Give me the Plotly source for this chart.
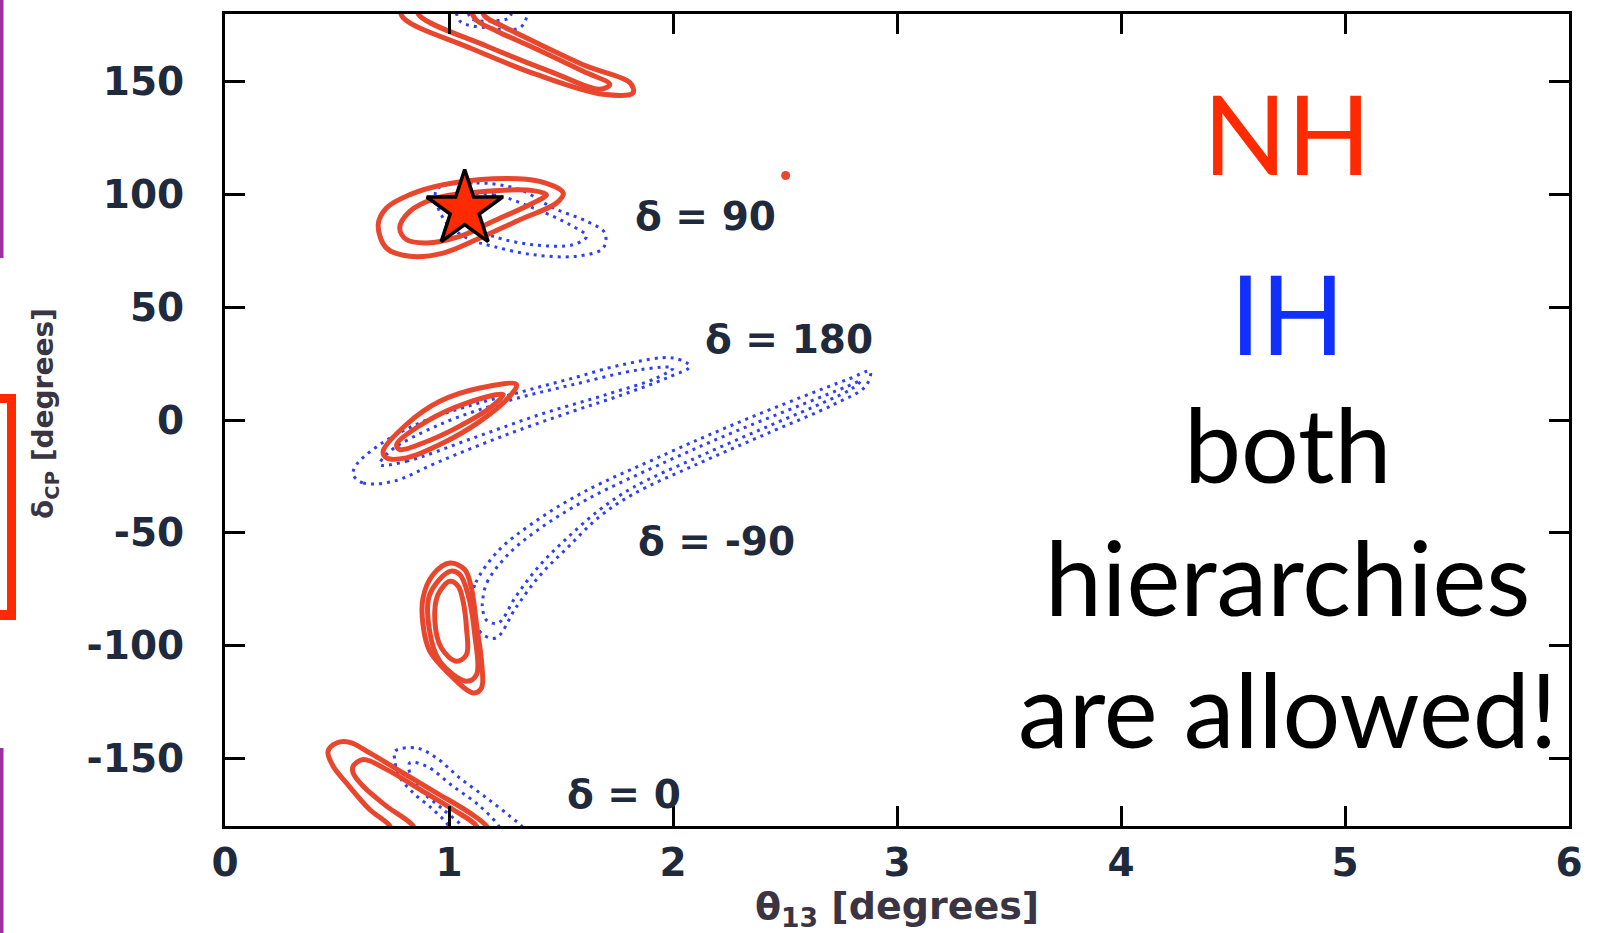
import plotly.graph_objects as go

# ---------------------------------------------------------------
# Allowed regions in the (theta13, delta_CP) plane.
# NH = normal hierarchy (solid red), IH = inverted hierarchy (dotted blue).
# Regions touching +/-180 deg wrap around and are clipped by the axes.
# ---------------------------------------------------------------

# NH, region at the top edge (wraps to the bottom)
nh_top_outer_x = [0.78, 0.795, 1.093, 1.39, 1.688, 1.822, 1.807, 1.614, 1.39, 1.24, 1.16, 1.14]
nh_top_outer_y = [184, 178.4, 165.0, 153.2, 144.4, 145.1, 149.6, 156.9, 167.3, 174.6, 179.0, 184]
nh_top_inner_x = [0.85, 0.87, 1.167, 1.465, 1.673, 1.718, 1.599, 1.39, 1.212, 1.12, 1.09]
nh_top_inner_y = [184, 179.1, 165.8, 154.0, 146.6, 148.8, 154.6, 164.5, 172.5, 177.5, 184]

# NH, delta = 90
nh_d90_outer_x = [0.684, 0.721, 0.825, 0.974, 1.197, 1.405, 1.51, 1.48, 1.316, 1.123, 0.974, 0.825, 0.721, 0.684]
nh_d90_outer_y = [86.6, 94.0, 99.9, 104.3, 107.0, 105.8, 100.6, 96.2, 88.8, 80.0, 74.0, 72.6, 76.2, 86.6]
nh_d90_inner_x = [0.780, 0.825, 0.944, 1.167, 1.375, 1.435, 1.375, 1.197, 1.048, 0.90, 0.81, 0.78]
nh_d90_inner_y = [85.1, 92.5, 98.4, 101.4, 101.7, 99.9, 96.2, 88.1, 81.4, 78.5, 80.0, 85.1]

# NH, delta = 180
nh_d180_outer_x = [0.706, 0.81, 0.959, 1.138, 1.301, 1.271, 1.138, 0.959, 0.81, 0.721, 0.706]
nh_d180_outer_y = [-13.9, -2.0, 8.3, 14.2, 15.7, 10.5, -0.6, -10.9, -16.8, -16.8, -13.9]
nh_d180_inner_x = [0.766, 0.90, 1.078, 1.242, 1.182, 1.033, 0.884, 0.78, 0.766]
nh_d180_inner_y = [-10.9, -0.6, 7.5, 11.3, 5.3, -3.5, -10.2, -13.1, -10.9]

# NH, delta = -90
nh_dm90_outer_x = [1.004, 0.929, 0.884, 0.884, 0.914, 1.004, 1.108, 1.145, 1.145, 1.123, 1.10, 1.07, 1.004]
nh_dm90_outer_y = [-63.4, -68.5, -78.9, -90.7, -102.5, -112.9, -121.0, -118.8, -107.0, -90.7, -74.5, -66.3, -63.4]
nh_dm90_mid_x = [1.004, 0.914, 0.911, 0.959, 1.078, 1.123, 1.115, 1.085, 1.048, 1.004]
nh_dm90_mid_y = [-67.1, -77.4, -92.2, -107.0, -115.8, -112.9, -95.1, -77.4, -68.5, -67.1]
nh_dm90_inner_x = [1.004, 0.951, 0.937, 0.966, 1.033, 1.078, 1.078, 1.063, 1.041, 1.004]
nh_dm90_inner_y = [-71.5, -77.4, -89.2, -101.1, -107.0, -104.0, -92.2, -80.4, -73.7, -71.5]

# NH, region at the bottom edge (delta = 0 label)
nh_bot_outer_x = [1.18, 1.167, 1.093, 0.944, 0.795, 0.646, 0.557, 0.498, 0.46, 0.483, 0.542, 0.646, 0.736, 0.745]
nh_bot_outer_y = [-184, -180, -174.2, -165.3, -156.5, -147.6, -142.9, -143.2, -146.9, -153.5, -160.9, -172.7, -180, -184]
nh_bot_inner_x = [1.13, 1.123, 1.018, 0.87, 0.721, 0.617, 0.572, 0.572, 0.617, 0.721, 0.84, 0.85]
nh_bot_inner_y = [-184, -180, -172.7, -163.8, -154.9, -150.5, -153.5, -156.5, -162.4, -171.2, -180, -184]

# IH, delta = 90
ih_d90_outer_x = [0.944, 1.123, 1.316, 1.465, 1.614, 1.696, 1.688, 1.569, 1.375, 1.197, 1.078, 0.974, 0.944]
ih_d90_outer_y = [102.1, 105.1, 102.1, 94.0, 88.1, 82.9, 76.2, 72.6, 73.3, 77.0, 80.7, 89.5, 102.1]
ih_d90_inner_x = [1.033, 1.197, 1.375, 1.539, 1.614, 1.554, 1.375, 1.197, 1.078, 1.033]
ih_d90_inner_y = [98.4, 99.9, 94.0, 86.6, 81.4, 77.7, 77.7, 81.4, 86.6, 98.4]

# IH, delta = 180
ih_d180_outer_x = [0.572, 0.617, 0.75, 0.959, 1.257, 1.554, 1.777, 1.971, 2.075, 2.0, 1.777, 1.554, 1.331, 1.108, 0.884, 0.691, 0.587, 0.572]
ih_d180_outer_y = [-24.2, -27.9, -27.2, -18.3, -6.5, 3.9, 11.3, 18.6, 23.8, 27.5, 24.6, 18.6, 12.7, 6.8, -0.6, -10.9, -19.8, -24.2]
ih_d180_inner_x = [0.691, 0.81, 1.108, 1.405, 1.703, 1.926, 2.0, 1.852, 1.554, 1.257, 0.959, 0.736, 0.691]
ih_d180_inner_y = [-19.8, -18.3, -8.0, 2.4, 11.3, 18.6, 23.1, 22.3, 15.7, 8.3, -2.0, -13.9, -19.8]

# IH, delta = -90
ih_dm90_outer_x = [1.10, 1.12, 1.22, 1.37, 1.60, 1.97, 2.27, 2.57, 2.78, 2.88, 2.86, 2.72, 2.42, 2.12, 1.82,
                   1.67, 1.525, 1.405, 1.30, 1.21, 1.15, 1.105, 1.10]
ih_dm90_outer_y = [-80, -72, -58, -46, -32, -15, -2, 10, 18, 21.5, 15, 7, -6, -19, -33,
                   -43, -57, -69, -83, -96.6, -95, -87, -80]
ih_dm90_inner_x = [1.15, 1.17, 1.26, 1.40, 1.62, 1.98, 2.28, 2.58, 2.78, 2.84, 2.80, 2.70, 2.42, 2.12, 1.82,
                   1.67, 1.52, 1.40, 1.30, 1.22, 1.17, 1.15, 1.15]
ih_dm90_inner_y = [-80, -72, -60, -48.5, -35, -18, -5, 7, 15, 17.5, 14, 9, -3, -16, -30,
                   -40, -53, -65, -78, -90, -89, -84, -80]

# IH, region at the bottom edge (wraps to the top)
ih_bot_outer_x = [1.335, 1.331, 1.271, 1.167, 1.048, 0.944, 0.855, 0.758, 0.758, 0.773, 0.84, 0.929, 1.004, 1.006]
ih_bot_outer_y = [-184, -180.9, -175.6, -167.5, -158.7, -149.8, -145.4, -146.9, -150.5, -157.2, -165.3, -172.7, -180.9, -184]
ih_bot_inner_x = [1.23, 1.227, 1.138, 1.018, 0.90, 0.825, 0.825, 0.87, 0.974, 1.063, 1.065]
ih_bot_inner_y = [-184, -180.9, -171.2, -162.4, -153.5, -152.0, -156.5, -163.8, -172.7, -180.9, -184]
ih_top_outer_x = [1.03, 1.048, 1.167, 1.316, 1.346, 1.35]
ih_top_outer_y = [184, 176.9, 173.9, 173.9, 178.4, 184]
ih_top_inner_x = [1.08, 1.10, 1.20, 1.27, 1.28]
ih_top_inner_y = [184, 178, 177, 178.5, 184]

# true point (star) and an isolated NH point
true_point_x = [1.07]
true_point_y = [93.4]
nh_dot_x = [2.503]
nh_dot_y = [108.4]

# axis ticks
x_ticks = [0, 1, 2, 3, 4, 5, 6]
y_ticks = [-150, -100, -50, 0, 50, 100, 150]

# region labels (theta13, delta_CP of label centre)
label_text = ["δ = 90", "δ = 180", "δ = -90", "δ = 0"]
label_x = [2.146, 2.517, 2.195, 1.783]
label_y = [90.3, 35.8, -53.8, -165.9]

NH_RED = "#e8462d"
IH_BLUE = "#2f40f0"
TICK_COLOR = "#1f2a3c"

fig = go.Figure()

nh_curves = [
    (nh_top_outer_x, nh_top_outer_y), (nh_top_inner_x, nh_top_inner_y),
    (nh_d90_outer_x, nh_d90_outer_y), (nh_d90_inner_x, nh_d90_inner_y),
    (nh_d180_outer_x, nh_d180_outer_y), (nh_d180_inner_x, nh_d180_inner_y),
    (nh_dm90_outer_x, nh_dm90_outer_y), (nh_dm90_mid_x, nh_dm90_mid_y), (nh_dm90_inner_x, nh_dm90_inner_y),
    (nh_bot_outer_x, nh_bot_outer_y), (nh_bot_inner_x, nh_bot_inner_y),
]
ih_curves = [
    (ih_d90_outer_x, ih_d90_outer_y), (ih_d90_inner_x, ih_d90_inner_y),
    (ih_d180_outer_x, ih_d180_outer_y), (ih_d180_inner_x, ih_d180_inner_y),
    (ih_dm90_outer_x, ih_dm90_outer_y), (ih_dm90_inner_x, ih_dm90_inner_y),
    (ih_bot_outer_x, ih_bot_outer_y), (ih_bot_inner_x, ih_bot_inner_y),
    (ih_top_outer_x, ih_top_outer_y), (ih_top_inner_x, ih_top_inner_y),
]

for cx, cy in ih_curves:
    fig.add_trace(go.Scatter(
        x=cx, y=cy, mode="lines", hoverinfo="skip", showlegend=False,
        line=dict(color=IH_BLUE, width=3, dash="3px,5px", shape="spline", smoothing=1.0),
    ))

for cx, cy in nh_curves:
    fig.add_trace(go.Scatter(
        x=cx, y=cy, mode="lines", hoverinfo="skip", showlegend=False,
        line=dict(color=NH_RED, width=5, shape="spline", smoothing=1.0),
    ))

fig.add_trace(go.Scatter(
    x=nh_dot_x, y=nh_dot_y, mode="markers", hoverinfo="skip", showlegend=False,
    marker=dict(color=NH_RED, size=9),
))
fig.add_trace(go.Scatter(
    x=true_point_x, y=true_point_y, mode="markers", hoverinfo="skip", showlegend=False,
    marker=dict(symbol="star", size=57, color="#ff2a00", line=dict(color="black", width=3.5)),
))

for t, lx, ly in zip(label_text, label_x, label_y):
    fig.add_annotation(
        x=lx, y=ly, text=t, showarrow=False, xanchor="center", yanchor="middle",
        font=dict(family="DejaVu Sans", size=39, color=TICK_COLOR, weight="bold"),
    )

# ---- page geometry (pixels) ----
W, H = 1605, 933
L, R, T, B = 225, 36, 14, 107
PW, PH = W - L - R, H - T - B


def px(xpix):
    return (xpix - L) / PW


def py(ypix):
    return (H - B - ypix) / PH


axis_common = dict(
    showgrid=False, zeroline=False, showline=True, linecolor="black", linewidth=3,
    mirror="ticks", ticks="inside", ticklen=20, tickwidth=3, tickcolor="black",
    tickfont=dict(family="DejaVu Sans", size=39, color=TICK_COLOR, weight="bold"),
)

fig.update_xaxes(range=[0, 6], tickvals=x_ticks, ticktext=[str(v) for v in x_ticks],
                 ticklabelstandoff=0, **axis_common)
fig.update_yaxes(range=[-180, 180], tickvals=y_ticks, ticktext=[str(v) for v in y_ticks],
                 ticklabelstandoff=30, **axis_common)

# axis titles
fig.add_annotation(
    xref="paper", yref="paper", x=0.5, y=py(908), showarrow=False,
    text="θ<sub>13</sub> [degrees]", xanchor="center", yanchor="middle",
    font=dict(family="DejaVu Sans", size=38, color="#3b3442", weight="bold"),
)
fig.add_annotation(
    xref="paper", yref="paper", x=px(46), y=py(414), showarrow=False, textangle=-90,
    text="δ<sub>CP</sub> [degrees]", xanchor="center", yanchor="middle",
    font=dict(family="DejaVu Sans", size=28, color="#3b3442", weight="bold"),
)

# hierarchy statement
fig.add_annotation(
    xref="paper", yref="paper", x=px(1287), y=py(132), showarrow=False,
    text="NH", xanchor="center", yanchor="middle",
    font=dict(family="Lato", size=110, color="#ff2a00"),
)
fig.add_annotation(
    xref="paper", yref="paper", x=px(1287), y=py(312), showarrow=False,
    text="IH", xanchor="center", yanchor="middle",
    font=dict(family="Lato", size=110, color="#1030ff"),
)
fig.add_annotation(
    xref="paper", yref="paper", x=px(1287), y=py(576), showarrow=False,
    text="both<br>hierarchies<br>are allowed!", xanchor="center", yanchor="middle", align="center",
    font=dict(family="Lato", size=102, color="black"),
)

# slide markers on the left edge
PURPLE = "#9b30a0"
BRACKET_RED = "#ff2a00"
side_rects = [
    (0, 0, 3.5, 258, PURPLE),
    (0, 748, 3.5, 933, PURPLE),
    (0, 394, 16, 403, BRACKET_RED),
    (7, 394, 16, 620, BRACKET_RED),
    (0, 610, 16, 620, BRACKET_RED),
]
for x0, y0, x1, y1, col in side_rects:
    fig.add_shape(type="rect", xref="paper", yref="paper",
                  x0=px(x0), x1=px(x1), y0=py(y1), y1=py(y0),
                  fillcolor=col, line=dict(width=0), layer="above")

fig.update_layout(
    width=W, height=H,
    margin=dict(l=L, r=R, t=T, b=B),
    paper_bgcolor="white", plot_bgcolor="white",
    showlegend=False,
)

fig.write_html("out.html")
